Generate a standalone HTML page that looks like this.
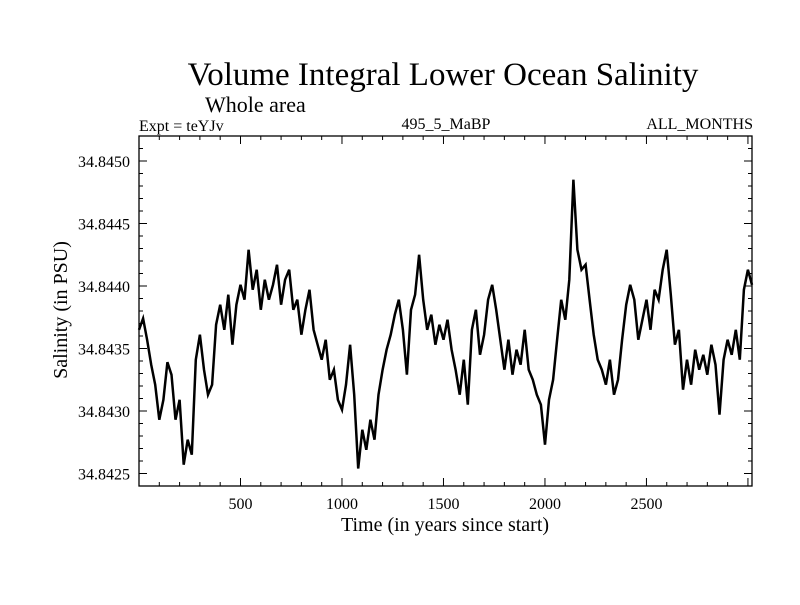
<!DOCTYPE html>
<html><head><meta charset="utf-8">
<style>
body{margin:0;background:#fff;}
svg text{font-family:"Liberation Serif",serif;fill:#000;}
</style></head>
<body>
<svg id="chart" width="800" height="600" xmlns="http://www.w3.org/2000/svg">
<rect width="800" height="600" fill="#fff"/>
<text x="443" y="85" font-size="33" text-anchor="middle">Volume Integral Lower Ocean Salinity</text>
<text x="205" y="112" font-size="22">Whole area</text>
<text x="139" y="131" font-size="16">Expt = teYJv</text>
<text x="446" y="129" font-size="16" text-anchor="middle">495_5_MaBP</text>
<text x="753" y="129" font-size="16" text-anchor="end">ALL_MONTHS</text>
<text x="445" y="531" font-size="20" text-anchor="middle">Time (in years since start)</text>
<text transform="translate(67,310) rotate(-90)" font-size="20" text-anchor="middle">Salinity (in PSU)</text>
<g id="axes"></g>
<g id="marks"></g>
</svg>
<script>
const salinity=[34.84365,34.84374,34.84357,34.84337,34.84321,34.84293,34.84309,34.84339,34.84329,34.84293,
34.84309,34.84257,34.84277,34.84265,34.84341,34.84361,34.84333,34.84313,34.84321,34.84369,
34.84385,34.84365,34.84393,34.84353,34.84385,34.84401,34.84389,34.84429,34.84397,34.84413,
34.84381,34.84405,34.84389,34.84401,34.84417,34.84385,34.84405,34.84413,34.84381,34.84389,
34.84361,34.84381,34.84397,34.84365,34.84353,34.84341,34.84357,34.84325,34.84333,34.84309,
34.84301,34.84321,34.84353,34.84313,34.84254,34.84285,34.84269,34.84293,34.84277,34.84313,
34.84333,34.84349,34.84361,34.84377,34.84389,34.84365,34.84329,34.84381,34.84393,34.84425,
34.84389,34.84365,34.84377,34.84353,34.84369,34.84357,34.84373,34.84349,34.84333,34.84313,
34.84341,34.84305,34.84365,34.84381,34.84345,34.84361,34.84389,34.84401,34.84381,34.84357,
34.84333,34.84357,34.84329,34.84349,34.84337,34.84365,34.84333,34.84325,34.84313,34.84305,
34.84273,34.84309,34.84325,34.84357,34.84389,34.84373,34.84405,34.84485,34.84429,34.84413,
34.84417,34.84389,34.84361,34.84341,34.84333,34.84321,34.84341,34.84313,34.84325,34.84357,
34.84385,34.84401,34.84389,34.84357,34.84373,34.84389,34.84365,34.84397,34.84389,34.84413,
34.84429,34.84393,34.84353,34.84365,34.84317,34.84341,34.84321,34.84349,34.84333,34.84345,
34.84329,34.84353,34.84337,34.84297,34.84341,34.84357,34.84345,34.84365,34.84341,34.84397,
34.84413,34.84401];
const years=salinity.map((_,i)=>i*20);
const xTicks=[500,1000,1500,2000,2500];
const yTicks=[34.8425,34.8430,34.8435,34.8440,34.8445,34.8450];
const yTickLabels=["34.8425","34.8430","34.8435","34.8440","34.8445","34.8450"];

const L=139,R=752,T=136,B=486;
const X0=0,X1=3020,Y0=34.84240,Y1=34.84520;
const xs=v=>L+(v-X0)/(X1-X0)*(R-L);
const ys=v=>B-(v-Y0)/(Y1-Y0)*(B-T);
const NS="http://www.w3.org/2000/svg";
const axes=document.getElementById('axes');
function mk(tag,attrs,parent){const e=document.createElementNS(NS,tag);for(const k in attrs)e.setAttribute(k,attrs[k]);parent.appendChild(e);return e;}

const frame=mk('rect',{x:L,y:T,width:R-L,height:B-T,fill:'none',stroke:'#000','stroke-width':1.3},axes);



for(let v=100;v<X1;v+=100){
  const x=xs(v);const major=v%500===0;const len=major?8:4;
  const t1=mk('line',{x1:x,y1:B,x2:x,y2:B-len,stroke:'#000','stroke-width':1},axes);
  
  
  const t2=mk('line',{x1:x,y1:T,x2:x,y2:T+len,stroke:'#000','stroke-width':1},axes);
  
  
}
xTicks.forEach(v=>{
  const t=mk('text',{x:xs(v),y:509,'font-size':16,'text-anchor':'middle'},axes);
  t.textContent=v;
  
  
});
for(let k=0;k<=27;k++){
  const v=34.8425+(k-1)*0.0001;
  if(v<Y0-1e-9||v>Y1+1e-9)continue;
  const y=ys(v);const major=(k-1)%5===0;const len=major?8:4;
  const t1=mk('line',{x1:L,y1:y,x2:L+len,y2:y,stroke:'#000','stroke-width':1},axes);
  
  
  const t2=mk('line',{x1:R,y1:y,x2:R-len,y2:y,stroke:'#000','stroke-width':1},axes);
  
  
}
yTicks.forEach((v,i)=>{
  const t=mk('text',{x:130,y:ys(v)+6,'font-size':16,'text-anchor':'end'},axes);
  t.textContent=yTickLabels[i];
  
  
});

const pts=salinity.map((v,i)=>xs(years[i]).toFixed(1)+','+ys(v).toFixed(1)).join(' ');
const line=mk('polyline',{points:pts,fill:'none',stroke:'#000','stroke-width':2.5,'stroke-linejoin':'miter'},document.getElementById('marks'));


</script>
</body></html>
